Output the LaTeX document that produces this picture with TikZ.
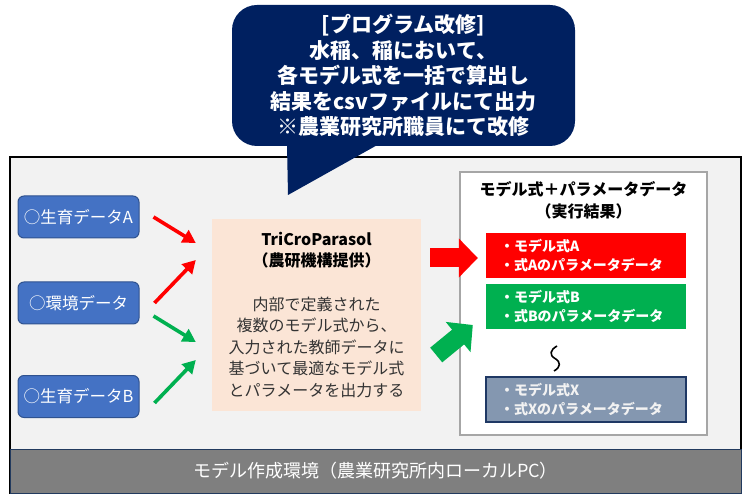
\documentclass[tikz,border=0pt]{standalone}
\usepackage{fontspec}
\setmainfont{Noto Sans CJK JP}
\usetikzlibrary{arrows.meta,calc}

\definecolor{navy}{HTML}{002060}
\definecolor{boxblue}{HTML}{4472C4}
\definecolor{boxline}{HTML}{2F528F}
\definecolor{peach}{HTML}{FBE5D6}
\definecolor{framegray}{HTML}{F2F2F2}
\definecolor{bandgray}{HTML}{7F7F7F}
\definecolor{bandline}{HTML}{223A5E}
\definecolor{resred}{HTML}{FF0000}
\definecolor{resgreen}{HTML}{00B050}
\definecolor{resgray}{HTML}{8497B0}
\definecolor{resline}{HTML}{1F3864}

\tikzset{
  databox/.style={draw=boxline, fill=boxblue, line width=1pt, rounded corners=6pt,
    minimum width=121pt, minimum height=42pt, text=white,
    font=\fontsize{16.5}{18}\selectfont},
  thinarrow/.style={line width=3.6pt, -{Triangle[length=13pt,width=14pt]}},
  bigarrow/.style={line width=19pt, -{Triangle[length=19pt,width=38pt]}},
  resbox/.style={minimum width=200pt, minimum height=45pt, text width=172pt,
    inner xsep=14pt, align=left, text=white,
    font=\bfseries\fontsize{14}{18.5}\selectfont},
}

\begin{document}
\begin{tikzpicture}[x=1pt,y=1pt]
  \useasboundingbox (0,0) rectangle (746,498);

  % Marco y banda inferior
  \draw[fill=framegray, line width=1.2pt] (10,5) rectangle (741,341);
  \node[draw=bandline, fill=bandgray, line width=1pt, minimum width=731pt,
    minimum height=44pt, text=white, font=\fontsize{18}{20}\selectfont]
    (band) at (375.5,27) {モデル作成環境（農業研究所内ローカルPC）};

  % Globo superior
  \node[fill=navy, rounded corners=25pt, minimum width=343pt, minimum height=141pt,
    text=white, align=center, font=\bfseries\fontsize{21}{25.5}\selectfont]
    (callout) at (403.5,422.5)
    {[プログラム改修]\\水稲、稲において、\\各モデル式を一括で算出し\\結果をcsvファイルにて出力\\※農業研究所職員にて改修};
  \coordinate (tip) at (288,303);
  \fill[navy] ([xshift=-116.5pt,yshift=1pt]callout.south) -- (tip)
    -- ([xshift=-26.5pt,yshift=1pt]callout.south) -- cycle;

  % Datos de entrada
  \foreach \name/\txt/\y in {gA/{○生育データA}/281, env/{○環境データ}/195, gB/{○生育データB}/101.5}
    \node[databox] (\name) at (78.5,\y) {\txt};

  % Caja central
  \node[fill=peach, minimum width=209pt, minimum height=192pt, align=center,
    font=\fontsize{16}{21.6}\selectfont, text=black!80] (tcp) at (316.5,183)
    {\textbf{\color{black}TriCroParasol}\\\textbf{\color{black}（農研機構提供）}\\[21.6pt]
     内部で定義された\\複数のモデル式から、\\入力された教師データに\\基づいて最適なモデル式\\とパラメータを出力する};

  % Flechas de entrada
  \draw[thinarrow, resred] ([xshift=14pt]gA.east) -- ([shift={(-16,72)}]tcp.west);
  \draw[thinarrow, resred] ([xshift=15pt]env.east) -- ([shift={(-16,55)}]tcp.west);
  \draw[thinarrow, resgreen] ([shift={(14,-13)}]env.east) -- ([shift={(-16,-27)}]tcp.west);
  \draw[thinarrow, resgreen] ([shift={(15,-6.5)}]gB.east) -- ([shift={(-16,-45)}]tcp.west);

  % Resultados
  \node[draw=black!35, fill=white, line width=1.5pt, minimum width=247pt,
    minimum height=263pt] (res) at (583.5,194.5) {};
  \node[align=center, font=\bfseries\fontsize{16}{22}\selectfont] (restitle)
    at (583.5,298) {モデル式＋パラメータデータ\\（実行結果）};
  \node[resbox, fill=resred] (rA) at (586,242.5) {・モデル式A\\・式Aのパラメータデータ};
  \node[resbox, fill=resgreen] (rB) at (586,191.5) {・モデル式B\\・式Bのパラメータデータ};
  \node[resbox, fill=resgray, draw=resline, line width=1.5pt, text=framegray]
    (rX) at (586,98.5) {・モデル式X\\・式Xのパラメータデータ};
  \draw[line width=1.6pt] (557,152) .. controls (550,148) and (549,143) .. (555,139.5)
    .. controls (561,136) and (561,131) .. (554,127);

  % Flechas de salida
  \coordinate (redstart) at ($(tcp.east |- 0,240)+(9,0)$);
  \coordinate (redend) at ($(rA.west |- 0,240)+(-8,0)$);
  \draw[bigarrow, resred] (redstart) -- (redend);
  \coordinate (greenstart) at ($(tcp.east)+(15,-40)$);
  \coordinate (greenend) at ($(rB.west)+(-13,-18.5)$);
  \draw[bigarrow, resgreen] (greenstart) -- (greenend);
\end{tikzpicture}
\end{document}
